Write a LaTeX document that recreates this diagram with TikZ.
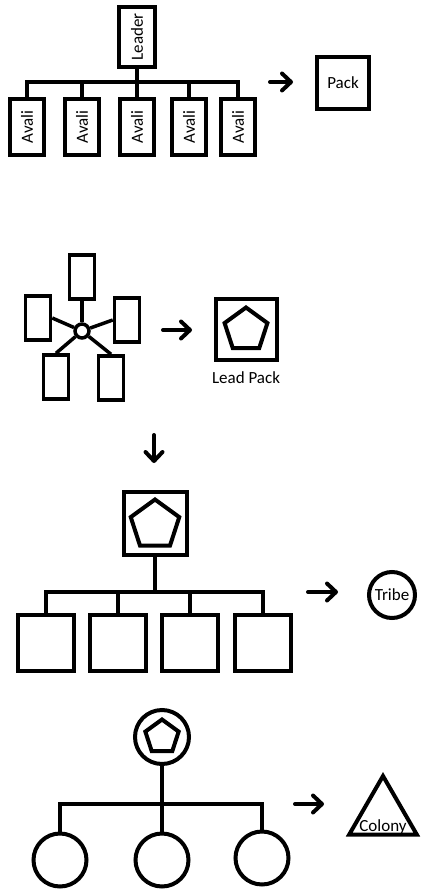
\documentclass[tikz,border=0pt]{standalone}
\usepackage{fontspec}
\setmainfont{Carlito}
\usepackage{tikz}
\usetikzlibrary{shapes.geometric, arrows.meta, positioning}
\newcommand{\lblfont}{\fontsize{17}{20}\selectfont}
\tikzset{
  member/.style={rectangle, draw=black, line width=4pt, inner sep=0pt, rotate=90, font=\lblfont},
  sqbox/.style={rectangle, draw=black, line width=4pt, inner sep=0pt, minimum size=#1},
  slot/.style={rectangle, draw=black, line width=3.5pt, inner sep=0pt, minimum width=25pt, minimum height=44pt},
  ring/.style={circle, draw=black, line width=4pt, inner sep=0pt, font=\lblfont},
  pent/.style={regular polygon, regular polygon sides=5, draw=black, line width=4pt, inner sep=0pt},
  link/.style={line width=4pt},
  spoke/.style={line width=3.5pt},
  arr/.style={-{Straight Barb[length=9pt, width=17pt, round]}, line width=4pt, line cap=round},
}

\begin{document}
\begin{tikzpicture}[x=1pt, y=-1pt]
\useasboundingbox (0,0) rectangle (421,890);
\node[member, minimum width=60pt, minimum height=36pt] (leader) at (137,37) {Leader};
\foreach \i/\x in {1/27, 2/82, 3/137, 4/189, 5/238}
  \node[member, minimum width=56pt, minimum height=34pt] (av\i) at (\x,127) {Avali};
\coordinate (bar1) at (137,82);
\draw[link] (leader) -- (bar1);
\draw[link] (av1) |- (bar1) -| (av5);
\foreach \i in {2,3,4} \draw[link] (av\i) -- (av\i |- bar1);
\coordinate (a1s) at (270,82);
\coordinate (a1e) at (293,82);
\draw[arr] (a1s) -- (a1e);
\node[sqbox=52pt, font=\lblfont] (pack) at (343,83) {Pack};

\node[ring, line width=3.5pt, minimum size=14pt] (hub) at (82,331) {};
\node[slot] (s1) at (82,277) {};
\node[slot] (s2) at (38,318) {};
\node[slot] (s3) at (127,320) {};
\node[slot] (s4) at (56,377) {};
\node[slot] (s5) at (111,378) {};
\draw[spoke] (hub) -- (s1);
\draw[spoke] (hub) -- (s2.east);
\draw[spoke] (hub) -- (s3.west);
\draw[spoke] (hub) -- (s4.north);
\draw[spoke] (hub) -- (s5.north);
\coordinate (a2s) at (163,330);
\coordinate (a2e) at (192,330);
\draw[arr] (a2s) -- (a2e);
\node[sqbox=61pt] (lead) at (246,329) {};
\node[pent, minimum size=45pt] (leadpent) at (246,330) {};
\node[font=\lblfont, inner sep=0pt, below=10pt of lead] (leadlbl) {Lead Pack};

\coordinate (a3s) at (154,435);
\coordinate (a3e) at (154,463);
\draw[arr] (a3s) -- (a3e);
\node[sqbox=63pt] (head) at (155,523) {};
\node[pent, minimum size=51pt] (headpent) at (155,525) {};
\coordinate (bar3) at (155,592);
\draw[link] (head) -- (bar3);
\foreach \i/\x in {1/46, 2/118, 3/190, 4/263}
  \node[sqbox=56pt] (pk\i) at (\x,643) {};
\draw[link] (pk1) |- (bar3) -| (pk4);
\foreach \i in {2,3} \draw[link] (pk\i) -- (pk\i |- bar3);
\coordinate (a4s) at (308,592);
\coordinate (a4e) at (338,592);
\draw[arr] (a4s) -- (a4e);
\node[ring, minimum size=46pt] (tribe) at (392,595) {Tribe};

\node[ring, minimum size=54pt] (chief) at (162,737) {};
\node[pent, minimum size=35pt] (chiefpent) at (162,737) {};
\coordinate (bar4) at (162,804);
\draw[link] (chief) -- (bar4);
\foreach \i/\x/\y in {1/60/860, 2/162/860, 3/262/858}
  \node[ring, minimum size=53pt] (tr\i) at (\x,\y) {};
\draw[link] (tr1) |- (bar4) -| (tr3);
\draw[link] (tr2) -- (bar4);
\coordinate (a5s) at (295,804);
\coordinate (a5e) at (324,804);
\draw[arr] (a5s) -- (a5e);
\node[regular polygon, regular polygon sides=3, draw=black, line width=4pt, inner sep=0pt, minimum size=78pt] (colony) at (383,815) {};
\node[font=\lblfont, inner sep=0pt] (colonylbl) at (383,827) {Colony};
\end{tikzpicture}
\end{document}
